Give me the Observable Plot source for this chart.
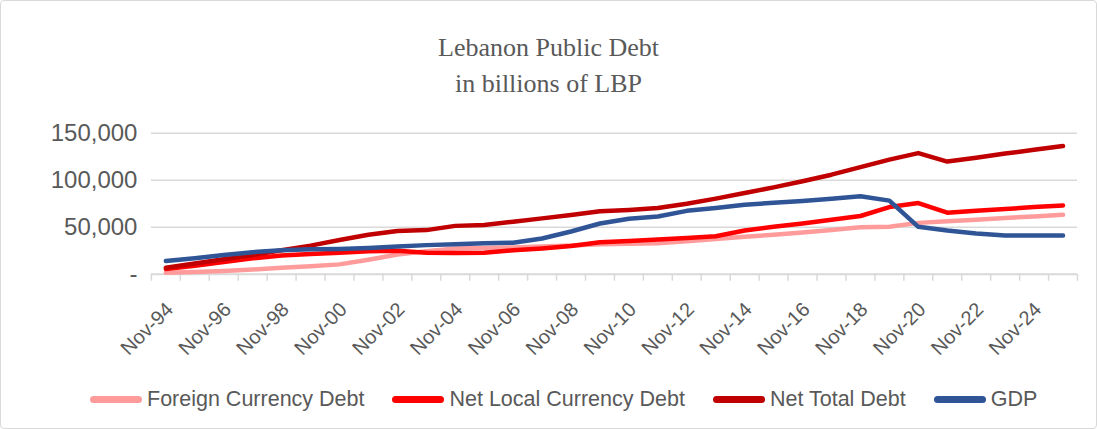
<!DOCTYPE html>
<html>
<head>
<meta charset="utf-8">
<script src="https://cdn.jsdelivr.net/npm/d3@7"></script>
<script src="https://cdn.jsdelivr.net/npm/@observablehq/plot@0.6"></script>
<style>
  html, body { margin: 0; padding: 0; background: #fff; }
  #wrap { position: relative; width: 1095px; height: 427px; border: 1px solid #d9d9d9; border-radius: 4px; overflow: hidden; }
  #title { position: absolute; left: 0; width: 1095px; top: 29px; text-align: center; font-family: "Liberation Serif", "Times New Roman", serif; font-size: 26px; line-height: 36px; color: #595959; }
  #chart { position: absolute; left: -1px; top: -1px; }
  #legend { position: absolute; left: 89px; top: 386px; display: flex; justify-content: flex-start; font-family: "Liberation Sans", Arial, sans-serif; font-size: 21.5px; color: #595959; white-space: nowrap; }
  .item { display: flex; align-items: center; margin-right: 28px; }
  .sw { width: 52px; height: 7px; border-radius: 4px; margin-right: 5px; }
</style>
</head>
<body>
<div id="wrap">
  <div id="title">Lebanon Public Debt<br>in billions of LBP</div>
  <div id="chart"></div>
  <div id="legend"></div>
</div>
<script>
const labels = ["Nov-94","Nov-95","Nov-96","Nov-97","Nov-98","Nov-99","Nov-00","Nov-01","Nov-02","Nov-03","Nov-04","Nov-05","Nov-06","Nov-07","Nov-08","Nov-09","Nov-10","Nov-11","Nov-12","Nov-13","Nov-14","Nov-15","Nov-16","Nov-17","Nov-18","Nov-19","Nov-20","Nov-21","Nov-22","Nov-23","Nov-24","Nov-25"];
const seriesNames = ["Foreign Currency Debt", "Net Local Currency Debt", "Net Total Debt", "GDP"];
const seriesColors = ["#FF9B9B", "#FF0000", "#C00000", "#2F5597"];
const foreign = [1500, 2500, 3500, 5000, 7000, 8500, 10500, 15500, 21000, 24500, 27500, 28000, 28500, 29500, 30500, 32000, 32500, 33000, 35000, 37500, 40000, 42000, 44500, 47000, 50000, 50500, 54700, 56500, 58000, 60000, 61500, 63300];
const local = [5500, 9000, 13000, 17000, 20000, 21500, 23000, 24500, 25000, 23000, 22500, 23000, 25500, 27500, 30000, 34000, 35500, 37000, 38500, 40500, 46500, 50500, 54000, 58000, 62000, 71500, 75800, 65500, 67500, 69500, 71500, 73300];
const total = [7000, 11500, 16000, 20500, 25500, 30500, 36500, 42000, 46000, 47000, 51500, 52500, 56000, 59500, 63000, 67000, 68500, 70500, 75000, 80500, 86500, 92500, 99000, 106000, 114000, 122000, 129000, 120000, 124000, 128500, 132500, 136600];
const gdp = [14000, 17000, 20500, 23500, 25500, 26500, 27000, 28000, 29500, 31000, 32000, 33000, 33500, 38000, 45500, 54000, 59000, 61500, 67500, 70500, 74000, 76000, 78000, 80500, 83000, 78400, 50500, 46500, 43500, 41300, 41300, 41300];
const yTicks = [0, 50000, 100000, 150000];

const seriesValues = [foreign, local, total, gdp];
const data = [];
seriesValues.forEach((vals, s) => vals.forEach((v, i) => data.push({i, v, series: seriesNames[s]})));
const catTicks = d3.range(labels.length + 1).map(k => k - 0.5);
const shownLabels = labels.map((t, i) => ({i, t})).filter(d => d.i % 2 === 0);
const fmt = d => d === 0 ? "-" : d3.format(",")(d);
const txt = "#595959";

const chart = Plot.plot({
  width: 1097, height: 429,
  marginLeft: 151, marginRight: 19, marginTop: 133, marginBottom: 155,
  x: {domain: [-0.5, labels.length - 0.5], axis: null},
  y: {domain: [0, 150000], axis: null},
  color: {domain: seriesNames, range: seriesColors},
  style: {fontFamily: "Liberation Sans, Arial, sans-serif", background: "transparent"},
  marks: [
    Plot.ruleY(yTicks.filter(d => d > 0), {stroke: "#d9d9d9", strokeWidth: 1.5}),
    Plot.ruleY([0], {stroke: "#d9d9d9", strokeWidth: 2}),
    Plot.ruleX(catTicks, {x: d => d, y1: 0, y2: 0, insetBottom: -7, stroke: "#d9d9d9", strokeWidth: 1.5}),
    Plot.line(data, {x: "i", y: "v", z: "series", stroke: "series", strokeWidth: 4.5, strokeLinecap: "round", strokeLinejoin: "round"}),
    Plot.text(yTicks, {x: -0.5, y: d => d, text: fmt, textAnchor: "end", dx: -14, fontSize: 24, letterSpacing: 0.5, fill: txt}),
    Plot.text(shownLabels, {x: "i", y: 0, text: "t", rotate: -45, textAnchor: "end", lineAnchor: "middle", dx: 4, dy: 32, fontSize: 20, fill: txt})
  ]
});
document.getElementById("chart").appendChild(chart);

const legend = document.getElementById("legend");
seriesNames.forEach((n, s) => {
  const it = document.createElement("div");
  it.className = "item";
  const sw = document.createElement("div");
  sw.className = "sw";
  sw.style.background = seriesColors[s];
  const lab = document.createElement("span");
  lab.textContent = n;
  it.appendChild(sw); it.appendChild(lab);
  legend.appendChild(it);
});
</script>
</body>
</html>
